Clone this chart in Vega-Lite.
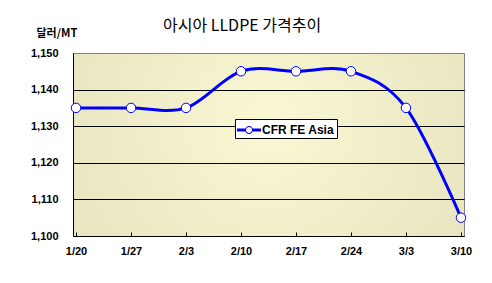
{
  "$schema": "https://vega.github.io/schema/vega-lite/v6.json",
  "width": 391,
  "height": 183,
  "autosize": {"type": "none"},
  "padding": {"left": 73, "top": 53, "right": 28, "bottom": 47},
  "background": "white",
  "title": {
    "text": "아시아 LLDPE 가격추이",
    "anchor": "start",
    "frame": "group",
    "dx": 90,
    "dy": 17,
    "font": "Noto Sans CJK KR",
    "fontSize": 16,
    "fontWeight": "normal",
    "color": "black",
    "offset": 10
  },
  "data": {
    "values": [
      {"date": "1/20", "price": 1135, "series": "CFR FE Asia"},
      {"date": "1/27", "price": 1135, "series": "CFR FE Asia"},
      {"date": "2/3", "price": 1135, "series": "CFR FE Asia"},
      {"date": "2/10", "price": 1145, "series": "CFR FE Asia"},
      {"date": "2/17", "price": 1145, "series": "CFR FE Asia"},
      {"date": "2/24", "price": 1145, "series": "CFR FE Asia"},
      {"date": "3/3", "price": 1135, "series": "CFR FE Asia"},
      {"date": "3/10", "price": 1105, "series": "CFR FE Asia"}
    ]
  },
  "config": {
    "view": {
      "stroke": "#808080",
      "strokeWidth": 1,
      "fill": {
        "gradient": "radial",
        "x1": 0.5, "y1": 0.45, "r1": 0,
        "x2": 0.5, "y2": 0.45, "r2": 0.75,
        "stops": [
          {"offset": 0, "color": "#FAF8D2"},
          {"offset": 1, "color": "#E2E0BA"}
        ]
      }
    }
  },
  "encoding": {
    "x": {
      "field": "date",
      "type": "ordinal",
      "sort": null,
      "scale": {"type": "point", "padding": 0.055},
      "axis": {
        "title": null,
        "labelAngle": 0,
        "labelFont": "Liberation Sans",
        "labelFontSize": 11,
        "labelFontWeight": "bold",
        "labelColor": "black",
        "labelPadding": 13,
        "tickSize": -4,
        "tickColor": "black",
        "domainColor": "black",
        "grid": false
      }
    },
    "y": {
      "field": "price",
      "type": "quantitative",
      "scale": {"domain": [1100, 1150], "nice": false, "zero": false},
      "axis": {
        "values": [1100, 1110, 1120, 1130, 1140, 1150],
        "format": ",.0f",
        "ticks": false,
        "labelPadding": 15,
        "labelFont": "Liberation Sans",
        "labelFontSize": 11,
        "labelFontWeight": "bold",
        "labelColor": "black",
        "domainColor": "black",
        "grid": true,
        "gridColor": {"condition": {"test": "datum.value >= 1150", "value": "#808080"}, "value": "black"},
        "gridOpacity": 1,
        "title": "달러/MT",
        "titleAngle": 0,
        "titleX": -37,
        "titleY": -20,
        "titleAlign": "left",
        "titleBaseline": "middle",
        "titleFont": "Noto Sans CJK KR",
        "titleFontSize": 11,
        "titleFontWeight": "bold",
        "titleColor": "black"
      }
    }
  },
  "layer": [
    {
      "mark": {"type": "line", "interpolate": "cardinal", "strokeWidth": 3},
      "encoding": {
        "color": {
          "field": "series",
          "type": "nominal",
          "scale": {"range": ["#0000FF"]},
          "legend": {
            "title": null,
            "orient": "none",
            "legendX": 162,
            "legendY": 66,
            "symbolType": "M-1.33,-0.17H-0.4V0.17H-1.33Z M0.4,-0.17H1.33V0.17H0.4Z M-0.44,0A0.44,0.44 0 1,1 0.44,0A0.44,0.44 0 1,1 -0.44,0Z M-0.33,0A0.33,0.33 0 1,0 0.33,0A0.33,0.33 0 1,0 -0.33,0Z",
            "symbolSize": 324,
            "symbolFillColor": "#0000FF",
            "symbolStrokeColor": "#0000FF",
            "symbolStrokeWidth": 0,
            "symbolOffset": 3,
            "labelFont": "Liberation Sans",
            "labelFontSize": 12,
            "labelFontWeight": "bold",
            "labelColor": "black",
            "labelOffset": 4,
            "strokeColor": "black",
            "fillColor": "white",
            "padding": 2,
            "cornerRadius": 0
          }
        }
      }
    },
    {
      "mark": {"type": "point", "filled": true, "fill": "white", "stroke": "#0000FF", "strokeWidth": 1, "size": 90, "opacity": 1},
      "encoding": {}
    }
  ]
}
